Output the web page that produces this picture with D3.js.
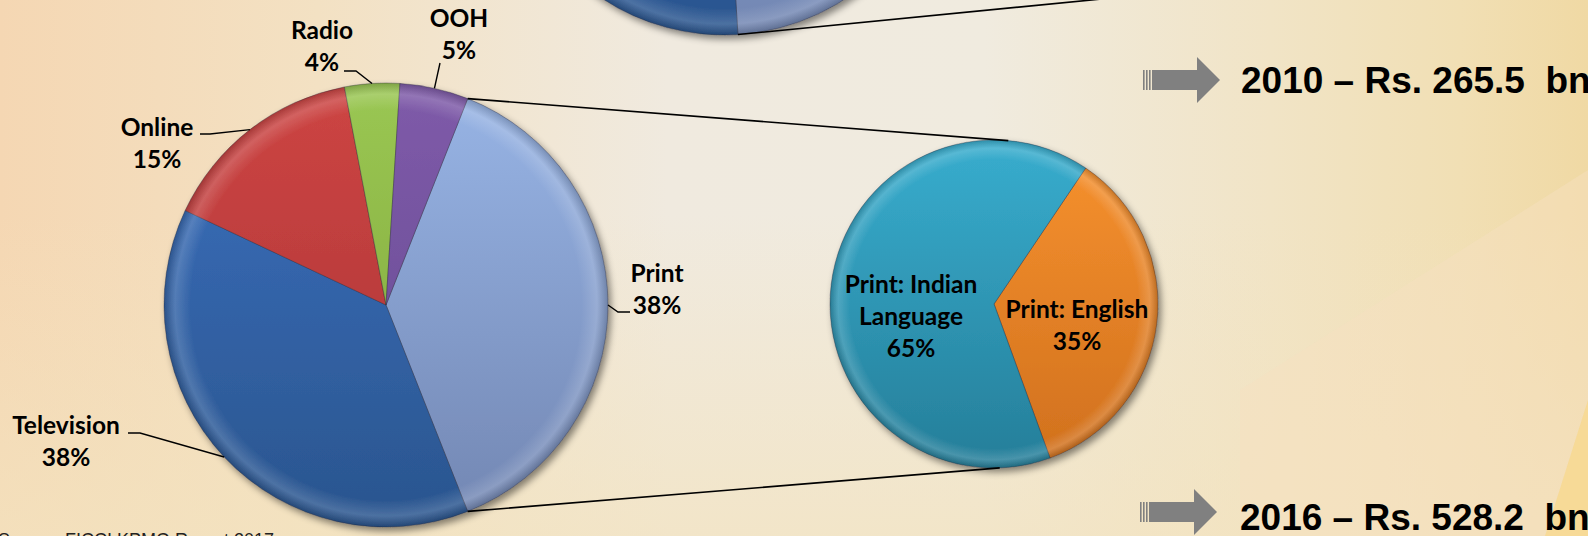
<!DOCTYPE html>
<html>
<head>
<meta charset="utf-8">
<script src="https://cdnjs.cloudflare.com/ajax/libs/d3/7.8.5/d3.min.js"></script>
<style>
  html, body { margin: 0; padding: 0; overflow: hidden; }
  svg { display: block; }
</style>
</head>
<body>
<script>
/* Data */

const segments = ["Print", "Television", "Online", "Radio", "OOH"];
const shares2016 = [38, 38, 15, 4, 5];
const shares2010 = [48, 41, 2, 4, 5];   // only the lower rim of this pie is in view
const printParts = ["Print: English", "Print: Indian Language"];
const printShares2016 = [35, 65];
const years = ["2010", "2016"];
const marketSize = ["265.5", "528.2"];
const sourceNote = "Source: FICCI KPMG Report 2017";

/* Chart size */

const w = 1588,
      h = 536;

const main16 = { cx: 386, cy: 305, r: 222 },
      sub16  = { cx: 994, cy: 304, r: 164 },
      main10 = { cx: 724, cy: -187, r: 222 },
      sub10  = { cx: 1332, cy: -188, r: 164 };

const deg = Math.PI / 180;

/* Colors (top, bottom of each slice) */

const sliceColors = {
  "Print": ["#98b5e6", "#7286b2"],
  "Television": ["#3b70bf", "#2a558e"],
  "Online": ["#cd4543", "#a93336"],
  "Radio": ["#9ac753", "#7ea339"],
  "OOH": ["#7f5ba9", "#634790"],
  "Print: English": ["#f7922f", "#d0701d"],
  "Print: Indian Language": ["#38adce", "#257e99"]
};

const labelFont = "Lato, 'Open Sans', sans-serif";

/* SVG */

const svg = d3.select("body")
  .append("svg")
  .attr("width", w)
  .attr("height", h);

const defs = svg.append("defs");

/* Background */

const bg = defs.append("linearGradient").attr("id", "bg")
  .attr("x1", 0).attr("y1", 0).attr("x2", 1).attr("y2", 0);
[[0, "#f5d7b3"], [0.2, "#f3e1c3"], [0.42, "#f0eadf"], [0.62, "#f0ebdf"], [0.8, "#f1e4c6"], [0.92, "#f1dfb4"], [1, "#f0d9a4"]]
  .forEach(s => bg.append("stop").attr("offset", s[0]).attr("stop-color", s[1]));

const bgLow = defs.append("linearGradient").attr("id", "bgLow")
  .attr("x1", 0).attr("y1", 0).attr("x2", 0).attr("y2", 1);
bgLow.append("stop").attr("offset", 0.4).attr("stop-color", "#f3e3bf").attr("stop-opacity", 0);
bgLow.append("stop").attr("offset", 1).attr("stop-color", "#f3e3bf").attr("stop-opacity", 0.7);

svg.append("rect").attr("width", w).attr("height", h).attr("fill", "url(#bg)");
svg.append("rect").attr("width", w).attr("height", h).attr("fill", "url(#bgLow)");

svg.append("path")
  .attr("d", "M1240,390L1588,170V536H1240Z")
  .attr("fill", "#f6e0c0").attr("opacity", 0.45);
svg.append("path")
  .attr("d", "M1545,536L1588,400V536Z")
  .attr("fill", "#f7d88e").attr("opacity", 0.8);

/* Shadow and rim shading */

const shadow = defs.append("filter").attr("id", "shadow")
  .attr("x", "-20%").attr("y", "-20%").attr("width", "140%").attr("height", "140%");
shadow.append("feDropShadow")
  .attr("dx", 3).attr("dy", 4).attr("stdDeviation", 3.5)
  .attr("flood-color", "#000").attr("flood-opacity", 0.45);

function rimGradient(id, r) {
  const g = defs.append("radialGradient").attr("id", id)
    .attr("gradientUnits", "userSpaceOnUse")
    .attr("cx", 0).attr("cy", 0).attr("r", r);
  g.append("stop").attr("offset", 0.88).attr("stop-color", "#fff").attr("stop-opacity", 0);
  g.append("stop").attr("offset", 0.95).attr("stop-color", "#fff").attr("stop-opacity", 0.16);
  g.append("stop").attr("offset", 1).attr("stop-color", "#000").attr("stop-opacity", 0.18);
}

/* Pie drawing */

function drawPie(geo, names, values, startAngle, id) {
  const arcs = d3.pie().sort(null).value(d => d)
    .startAngle(startAngle).endAngle(startAngle + 2 * Math.PI)(values);
  const arc = d3.arc().innerRadius(0).outerRadius(geo.r);

  names.forEach((n, i) => {
    const lg = defs.append("linearGradient").attr("id", id + "-" + i)
      .attr("gradientUnits", "userSpaceOnUse")
      .attr("x1", 0).attr("y1", -geo.r).attr("x2", 0).attr("y2", geo.r);
    lg.append("stop").attr("offset", 0).attr("stop-color", sliceColors[n][0]);
    lg.append("stop").attr("offset", 1).attr("stop-color", sliceColors[n][1]);
  });
  rimGradient(id + "-rim", geo.r);

  const g = svg.append("g")
    .attr("transform", "translate(" + geo.cx + "," + geo.cy + ")")
    .attr("filter", "url(#shadow)");

  g.selectAll("path.slice")
    .data(arcs)
    .enter()
    .append("path")
    .attr("class", "slice")
    .attr("d", arc)
    .attr("fill", (d, i) => "url(#" + id + "-" + i + ")")
    .attr("stroke", "rgba(40,40,60,0.35)")
    .attr("stroke-width", 1);

  g.selectAll("path.rim")
    .data(arcs)
    .enter()
    .append("path")
    .attr("class", "rim")
    .attr("d", arc)
    .attr("fill", "url(#" + id + "-rim)");

  return arcs;
}

function rimPoint(geo, a) {
  return [geo.cx + geo.r * Math.sin(a), geo.cy - geo.r * Math.cos(a)];
}

/* 2010 group (mostly above the view) */

const print10 = 2 * Math.PI * shares2010[0] / 100;
const arcs10 = drawPie(main10, segments, shares2010, Math.PI / 2 - print10 / 2, "p10");

/* 2016 group */

const print16 = 2 * Math.PI * shares2016[0] / 100;
const arcs16 = drawPie(main16, segments, shares2016, Math.PI / 2 - print16 / 2, "p16");
const subStart = 97 * deg - Math.PI * printShares2016[0] / 100;
const subArcs16 = drawPie(sub16, printParts, printShares2016, subStart, "s16");

/* Connector lines */

const connectors = [
  [rimPoint(main16, arcs16[0].startAngle), rimPoint(sub16, 5 * deg)],
  [rimPoint(main16, arcs16[0].endAngle), rimPoint(sub16, 178 * deg)],
  [rimPoint(main10, arcs10[0].endAngle), rimPoint(sub10, 178 * deg)]
];

svg.append("g").selectAll("line")
  .data(connectors)
  .enter()
  .append("line")
  .attr("x1", d => d[0][0]).attr("y1", d => d[0][1])
  .attr("x2", d => d[1][0]).attr("y2", d => d[1][1])
  .attr("stroke", "#000")
  .attr("stroke-width", 1.6);

/* Labels on the main pie */

const mainLabels = {
  "Online":     { x: 157, y: 136, lead: [[200, 134], [210, 134]] },
  "Radio":      { x: 322, y: 39,  lead: [[344, 71], [356, 71]] },
  "OOH":        { x: 459, y: 27,  lead: [[440, 63]] },
  "Print":      { x: 657, y: 282, lead: [[630, 312], [618, 312]] },
  "Television": { x: 66,  y: 434, lead: [[128, 433], [140, 433]] }
};

const lineGap = 32;

arcs16.forEach((d, i) => {
  const name = segments[i];
  const lab = mainLabels[name];
  const mid = (d.startAngle + d.endAngle) / 2;
  const pts = lab.lead.concat([rimPoint(main16, mid)]);

  svg.append("path")
    .attr("d", d3.line()(pts))
    .attr("fill", "none")
    .attr("stroke", "#000")
    .attr("stroke-width", 1.4);

  const t = svg.append("text")
    .attr("x", lab.x).attr("y", lab.y)
    .attr("text-anchor", "middle")
    .style("font-family", labelFont)
    .style("font-weight", "bold")
    .style("font-size", "24.5px")
    .attr("fill", "#000");
  t.append("tspan").attr("x", lab.x).text(name);
  t.append("tspan").attr("x", lab.x).attr("dy", lineGap).text(shares2016[i] + "%");
});

/* Labels inside the print pie */

const subLabels = {
  "Print: English":         { x: 1077, y: 318, wrap: 0 },
  "Print: Indian Language": { x: 911,  y: 293, wrap: 2 }
};

subArcs16.forEach((d, i) => {
  const name = printParts[i];
  const lab = subLabels[name];
  const words = name.split(" ");
  const lines = lab.wrap ? [words.slice(0, lab.wrap).join(" "), words.slice(lab.wrap).join(" ")] : [name];
  lines.push(printShares2016[i] + "%");

  const t = svg.append("text")
    .attr("x", lab.x).attr("y", lab.y)
    .attr("text-anchor", "middle")
    .style("font-family", labelFont)
    .style("font-weight", "bold")
    .style("font-size", "24.5px")
    .attr("fill", "#000");
  lines.forEach((l, k) => {
    t.append("tspan").attr("x", lab.x).attr("dy", k ? lineGap : 0).text(l);
  });
});

/* Market size notes with arrows */

const notes = [
  { ax: 1143, ay: 80, tx: 1241, ty: 93 },
  { ax: 1140, ay: 512, tx: 1240, ty: 530 }
];

years.forEach((yr, i) => {
  const n = notes[i];
  const g = svg.append("g").attr("fill", "#808080");
  [0, 3, 6].forEach(dx => {
    g.append("rect").attr("x", n.ax + dx).attr("y", n.ay - 10)
      .attr("width", 1.6).attr("height", 20);
  });
  g.append("path")
    .attr("d", "M" + (n.ax + 9) + "," + (n.ay - 10) + "H" + (n.ax + 54) + "V" + (n.ay - 23) +
               "L" + (n.ax + 77) + "," + n.ay + "L" + (n.ax + 54) + "," + (n.ay + 23) +
               "V" + (n.ay + 10) + "H" + (n.ax + 9) + "Z");

  svg.append("text")
    .attr("x", n.tx).attr("y", n.ty)
    .style("font-family", "'Liberation Sans', Arial, sans-serif")
    .style("font-weight", "bold")
    .style("font-size", "37px")
    .style("white-space", "pre")
    .attr("fill", "#000")
    .text(yr + " \u2013 Rs. " + marketSize[i] + "  bn");
});

/* Source */

svg.append("text")
  .attr("x", -2).attr("y", 546)
  .style("font-family", "'Liberation Sans', Arial, sans-serif")
  .style("font-size", "18px")
  .attr("fill", "#222")
  .text(sourceNote);
</script>
</body>
</html>
